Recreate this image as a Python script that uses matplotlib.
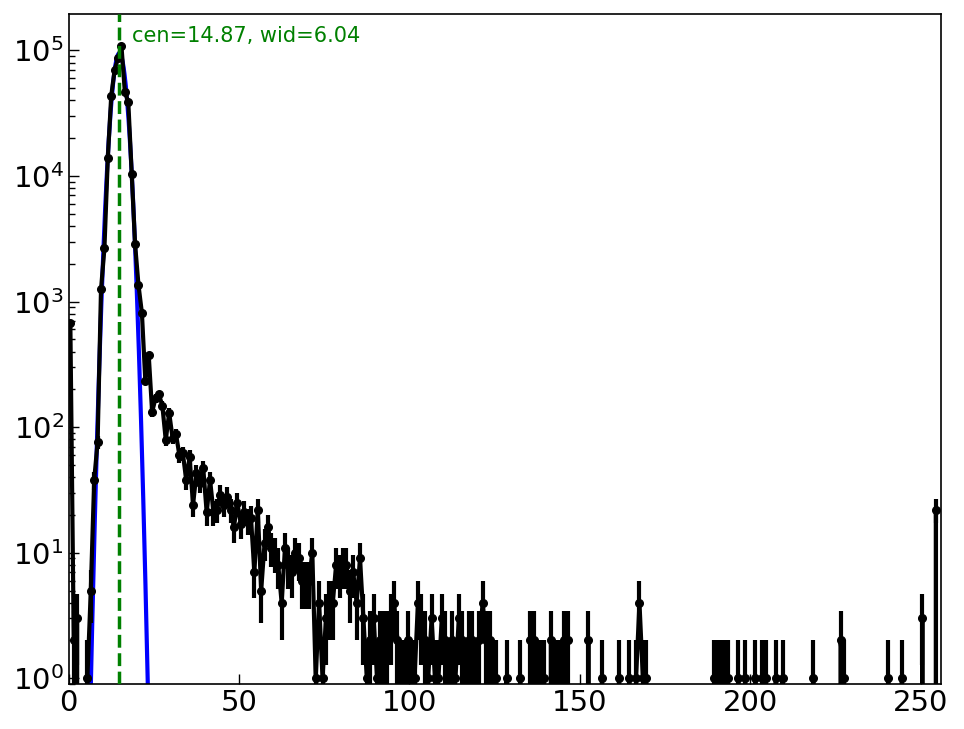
import numpy as np
import matplotlib
matplotlib.use("Agg")
import matplotlib.pyplot as plt

# counts per bin (bins 0..255)
counts_0_86 = [680, 2, 3, 0, 0, 1, 5, 38, 76, 1250,
               2650, 14000, 43500, 70000, 87000, 108000, 46500, 39000, 10400, 2850,
               1350, 810, 235, 375, 132, 170, 182, 148, 79, 130,
               82, 88, 60, 62, 38, 58, 24, 43, 36, 47,
               21, 38, 21, 22, 29, 24, 28, 22, 16, 25,
               17, 21, 18, 19, 7, 22, 5, 12, 16, 11,
               10, 8, 4, 11, 8, 7, 10, 9, 6, 6,
               6, 10, 1, 4, 1, 3, 4, 4, 8, 7,
               8, 8, 5, 7, 4, 9, 3]
counts_87_128 = [1, 2, 3, 1, 2, 2, 2, 3, 4, 2,
                 1, 1, 2, 1, 1, 4, 3, 2, 1, 3,
                 1, 1, 3, 2, 1, 2, 1, 3, 2, 1,
                 2, 2, 1, 2, 4, 2, 2, 1, 1, 0,
                 0, 1]
# sparse tail: bin -> count
tail = {132: 1, 135: 2, 136: 2, 137: 1, 138: 1, 139: 1, 141: 2, 142: 1, 143: 1,
        144: 1, 145: 2, 146: 2, 152: 2, 156: 1, 161: 1, 164: 1, 166: 1, 167: 4,
        168: 1, 169: 1, 189: 1, 190: 1, 191: 1, 192: 1, 193: 1, 196: 1, 198: 1,
        201: 1, 203: 1, 204: 1, 207: 1, 209: 1, 218: 1, 226: 2, 227: 1, 240: 1,
        244: 1, 250: 3, 254: 22}

fit_cen = 14.87
fit_wid = 6.04
fit_amp = 95000

counts = np.zeros(256)
counts[:87] = counts_0_86
counts[87:129] = counts_87_128
for k, v in tail.items():
    counts[k] = v
x = np.arange(256) + 0.5
err = np.sqrt(counts)

fig = plt.figure(figsize=(9.64, 7.29), dpi=100)
ax = fig.add_axes([0.0712, 0.0617, 0.905, 0.9191])
ax.set_yscale('log')

xf = np.linspace(0, 256, 2000)
yf = fit_amp * np.exp(-(xf - fit_cen) ** 2 / fit_wid)
ax.plot(xf, yf, color='blue', lw=3, zorder=1)

ax.errorbar(x, counts, yerr=err, fmt='o-', color='black', ms=5.5, lw=3,
            elinewidth=3, capsize=0, zorder=2)

ax.axvline(fit_cen, color='green', ls='--', lw=2.5, zorder=3)
ax.text(fit_cen + 3.7, 0.967, 'cen=%.2f, wid=%.2f' % (fit_cen, fit_wid),
        color='green', fontsize=15, va='center', ha='left',
        transform=ax.get_xaxis_transform())

ax.set_xlim(0, 256)
ax.set_ylim(0.9, 1.95e5)
ax.set_xticks([0, 50, 100, 150, 200, 250])
ax.tick_params(axis='both', which='both', direction='in', labelsize=21,
               top=False, right=False)
ax.tick_params(axis='both', which='major', length=7, width=1)
ax.tick_params(axis='y', which='minor', length=4, width=1)
for s in ax.spines.values():
    s.set_linewidth(1.2)

fig.savefig('out.png', dpi=100)
